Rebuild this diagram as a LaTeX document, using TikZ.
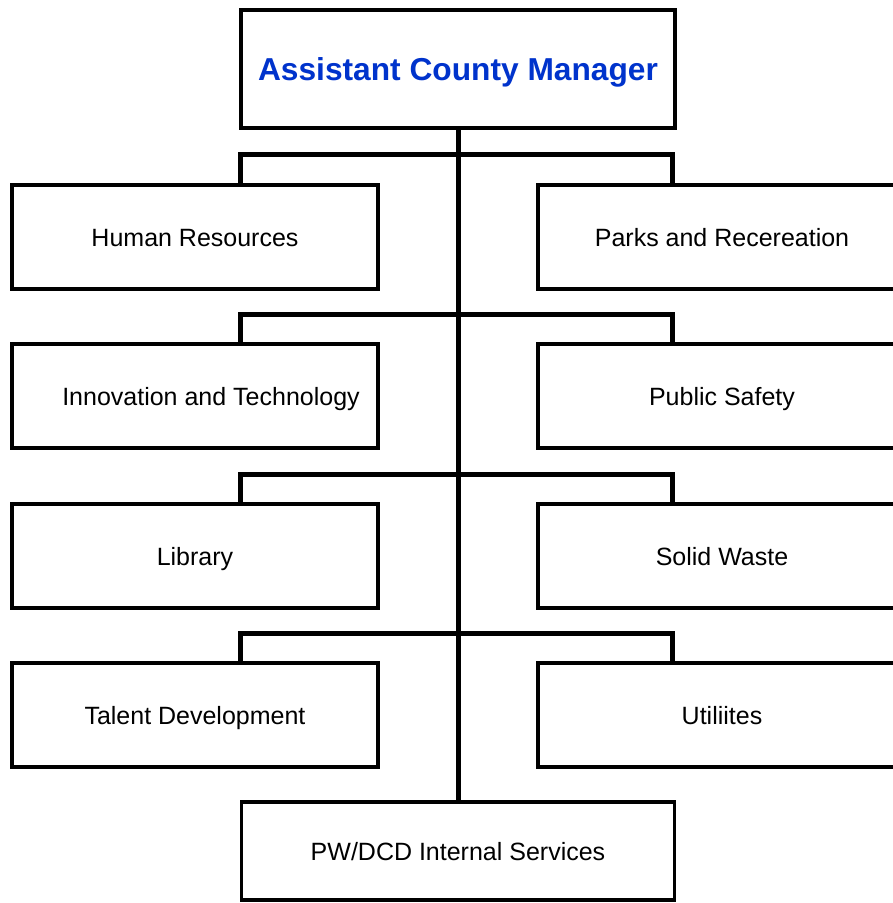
\documentclass[tikz,border=0pt]{standalone}
\usepackage{fontspec}
\setmainfont{Liberation Sans}
\definecolor{titleblue}{RGB}{0,51,204}
\tikzset{
  box/.style={draw=black, line width=3.5pt, fill=white, rectangle, inner sep=0pt, align=center, text height=18pt, text depth=0pt, font=\fontsize{25}{30}\selectfont},
  lbox/.style={box, minimum width=366pt, minimum height=104pt},
  rbox/.style={box, minimum width=368pt, minimum height=104pt},
  conn/.style={draw=black, line width=5pt, line cap=butt}
}
\begin{document}
\begin{tikzpicture}[x=1pt,y=-1pt]
\useasboundingbox (0,0) rectangle (893,903);
\node[box, minimum width=434pt, minimum height=118pt, text height=22.7pt, font=\bfseries\fontsize{31.7}{36}\selectfont, text=titleblue] (title) at (458,69) {Assistant County Manager};
\node[box, minimum width=433pt, minimum height=98pt] (pw) at (458,851) {PW/DCD Internal Services};
% trunk
\coordinate (b1) at (458,154);
\coordinate (b2) at (458,314);
\coordinate (b3) at (458,474);
\coordinate (b4) at (458,633);
\draw[conn] (title.south) -- (pw.north);
% boxes
\node[lbox] (hr) at (195,237) {Human Resources};
\node[rbox] (pr) at (722,237) {Parks and Recereation};
\node[lbox] (it) at (195,396) {\hspace*{32pt}Innovation and Technology};
\node[rbox] (ps) at (722,396) {Public Safety};
\node[lbox] (lib) at (195,556) {Library};
\node[rbox] (sw) at (722,556) {Solid Waste};
\node[lbox] (td) at (195,715) {Talent Development};
\node[rbox] (ut) at (722,715) {Utiliites};
% branches
\draw[conn] ([xshift=230pt]hr.north west) |- (b1) -| ([xshift=136pt]pr.north west);
\draw[conn] ([xshift=230pt]it.north west) |- (b2) -| ([xshift=136pt]ps.north west);
\draw[conn] ([xshift=230pt]lib.north west) |- (b3) -| ([xshift=136pt]sw.north west);
\draw[conn] ([xshift=230pt]td.north west) |- (b4) -| ([xshift=136pt]ut.north west);
\end{tikzpicture}
\end{document}
